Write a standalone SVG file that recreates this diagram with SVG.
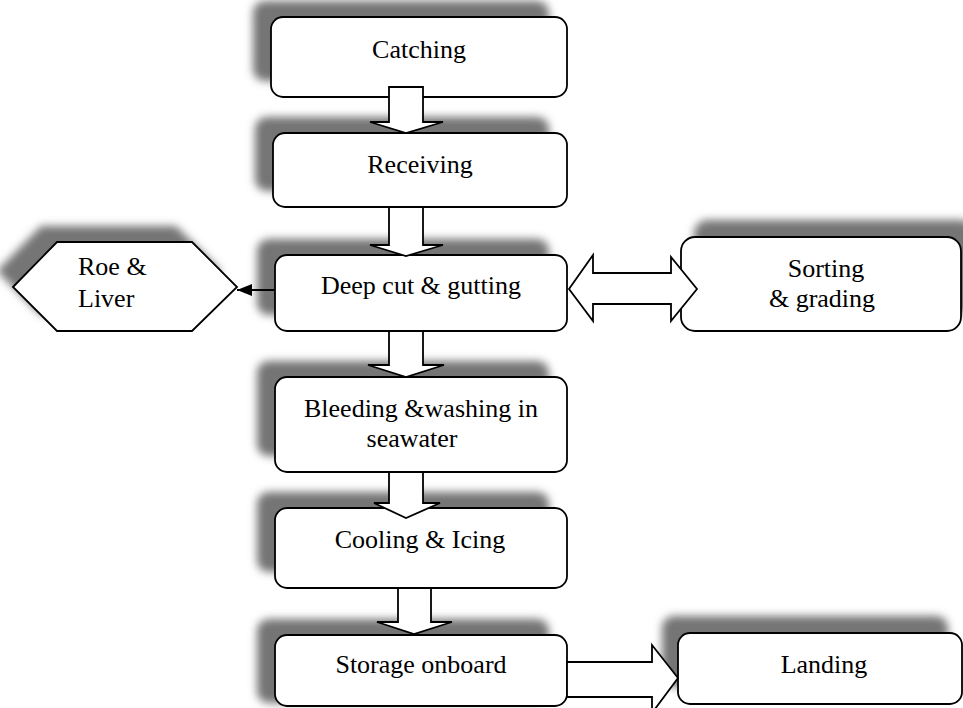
<svg xmlns="http://www.w3.org/2000/svg" width="963" height="708" viewBox="0 0 963 708">
<defs>
<style>
.box{fill:#fff;stroke:#000;stroke-width:1.8}
.sh{fill:#747474;filter:url(#blur)}
.t{font-family:"Liberation Serif","Times New Roman",serif;font-size:26px;fill:#000}
.c{text-anchor:middle}
.blk{fill:#fff;stroke:#000;stroke-width:1.8;stroke-linejoin:miter}
</style>
<filter id="blur" x="-20%" y="-40%" width="140%" height="180%"><feGaussianBlur stdDeviation="4"/></filter>
<marker id="ah" markerWidth="16" markerHeight="12" refX="15" refY="6" orient="auto" markerUnits="userSpaceOnUse"><path d="M0,0 L15,6 L0,12 Z" fill="#000"/></marker>
</defs>
<rect width="963" height="708" fill="#fff"/>

<g id="catching">
<rect class="sh" x="253" y="1" width="296" height="80" rx="12"/>
<rect class="box" x="271" y="17" width="296" height="80" rx="12"/>
<text class="t c" x="419" y="58">Catching</text>
</g>
<g id="receiving">
<rect class="sh" x="255" y="117" width="294" height="74" rx="12"/>
<rect class="box" x="273" y="133" width="294" height="74" rx="12"/>
<text class="t c" x="420" y="173">Receiving</text>
</g>
<g id="deepcut">
<rect class="sh" x="257" y="239" width="292" height="76" rx="12"/>
<rect class="box" x="275" y="255" width="292" height="76" rx="12"/>
<text class="t c" x="421" y="294">Deep cut &amp; gutting</text>
</g>
<g id="roe">
<polygon class="sh" points="-3,271 41,226 176,226 221,271 176,315 41,315"/>
<polygon class="box" points="13,287 57,242 192,242 237,287 192,331 57,331"/>
<text class="t" x="78" y="275">Roe &amp;</text>
<text class="t" x="78" y="307">Liver</text>
</g>
<g id="sorting">
<rect class="sh" x="694" y="220" width="280" height="94" rx="14"/>
<rect class="box" x="681" y="237" width="280" height="94" rx="14"/>
<text class="t c" x="826" y="277">Sorting</text>
<text class="t c" x="822" y="307">&amp; grading</text>
</g>
<g id="bleeding">
<rect class="sh" x="257" y="361" width="292" height="95" rx="12"/>
<rect class="box" x="275" y="377" width="292" height="95" rx="12"/>
<text class="t c" x="421" y="417">Bleeding &amp;washing in</text>
<text class="t c" x="412" y="447">seawater</text>
</g>
<g id="cooling">
<rect class="sh" x="257" y="492" width="292" height="80" rx="12"/>
<rect class="box" x="275" y="508" width="292" height="80" rx="12"/>
<text class="t c" x="420" y="548">Cooling &amp; Icing</text>
</g>
<g id="storage">
<rect class="sh" x="257" y="619" width="292" height="84" rx="12"/>
<rect class="box" x="275" y="635" width="292" height="71" rx="12"/>
<text class="t c" x="421" y="673">Storage onboard</text>
</g>
<g id="landing">
<rect class="sh" x="662" y="616" width="286" height="71" rx="12"/>
<rect class="box" x="678" y="633" width="284" height="71" rx="12"/>
<text class="t c" x="824" y="673">Landing</text>
</g>

<g id="connectors">
<path class="blk" d="M389,87 H423 V122 H443 L406,133 L370,122 H389 Z"/>
<path class="blk" d="M389,207 H423 V245 H443 L406,256 L370,245 H389 Z"/>
<path class="blk" d="M389,331 H423 V365 H444 L406,377 L368,365 H389 Z"/>
<path class="blk" d="M389,472 H423 V503 H440 L406,518 L374,503 H389 Z"/>
<path class="blk" d="M398,588 H431 V622 H452 L414,634 L377,622 H398 Z"/>
<path class="blk" d="M567,662 H652 V645 L678,678 L652,713 V697 H567 Z"/>
<path class="blk" d="M569,289 L593,255 V273 H671 V257 L697,289 L671,321 V304 H593 V321 Z"/>
<line x1="275" y1="290" x2="237" y2="290" stroke="#000" stroke-width="1.8" marker-end="url(#ah)"/>
</g>
</svg>
